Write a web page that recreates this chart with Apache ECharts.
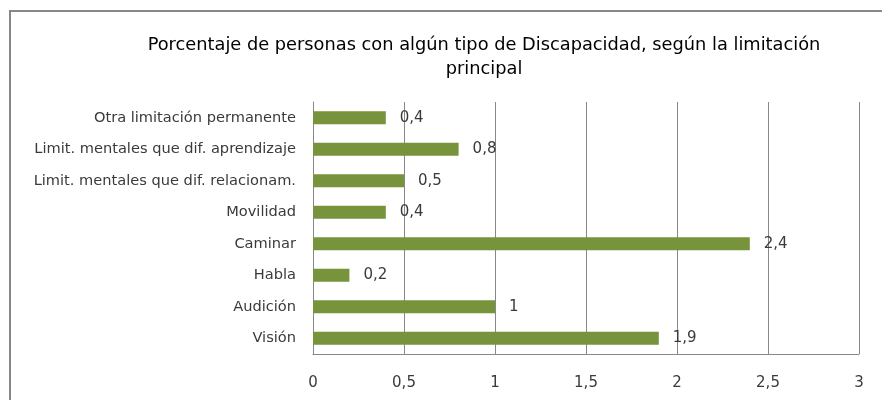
<!DOCTYPE html>
<html>
<head>
<meta charset="utf-8">
<script src="https://cdn.jsdelivr.net/npm/echarts@6/dist/echarts.min.js"></script>
<style>
  html, body { margin: 0; padding: 0; background: #fff; }
  #chart { width: 882px; height: 400px; }
</style>
</head>
<body>
<div id="chart"></div>
<script>
// categorias (de abajo hacia arriba, como en el eje)
const categorias = [
  'Visión',
  'Audición',
  'Habla',
  'Caminar',
  'Movilidad',
  'Limit. mentales que dif. relacionam.',
  'Limit. mentales que dif. aprendizaje',
  'Otra limitación permanente'
];
const porcentajes = [1.9, 1, 0.2, 2.4, 0.4, 0.5, 0.8, 0.4];
const ticksX = [0, 0.5, 1, 1.5, 2, 2.5, 3];

const coma = v => String(v).replace('.', ',');

const myChart = echarts.init(document.getElementById('chart'));
const option = {
  backgroundColor: '#fff',
  animation: false,
  textStyle: { fontFamily: 'DejaVu Sans, Arial, sans-serif' },
  graphic: [{
    type: 'rect',
    shape: { x: 10, y: 11, width: 900, height: 420 },
    style: { fill: 'none', stroke: '#878787', lineWidth: 2 },
    silent: true
  }],
  title: {
    text: 'Porcentaje de personas con algún tipo de Discapacidad, según la limitación\nprincipal',
    left: 479,
    top: 28,
    textAlign: 'center',
    textStyle: { fontSize: 17.8, fontWeight: 'normal', color: '#000', lineHeight: 24, fontFamily: 'DejaVu Sans' }
  },
  grid: { left: 313, right: 23, top: 102, bottom: 46 },
  xAxis: {
    type: 'value',
    min: ticksX[0],
    max: ticksX[ticksX.length - 1],
    interval: 0.5,
    axisLine: { show: true, lineStyle: { color: '#878787' } },
    axisTick: { show: false },
    axisLabel: { formatter: coma, color: '#3a3a3a', fontSize: 15, margin: 22 },
    splitLine: { show: true, lineStyle: { color: '#878787', width: 1 } }
  },
  yAxis: {
    type: 'category',
    data: categorias,
    axisLine: { show: true, lineStyle: { color: '#878787' } },
    axisTick: { show: false },
    axisLabel: { color: '#3a3a3a', fontSize: 14.6, margin: 17 }
  },
  series: [{
    type: 'bar',
    data: porcentajes,
    barWidth: 13,
    itemStyle: { color: '#77933C' },
    label: {
      show: true,
      position: 'right',
      distance: 14,
      color: '#3a3a3a',
      fontSize: 15,
      formatter: p => coma(p.value)
    }
  }]
};
myChart.setOption(option);
</script>
</body>
</html>
